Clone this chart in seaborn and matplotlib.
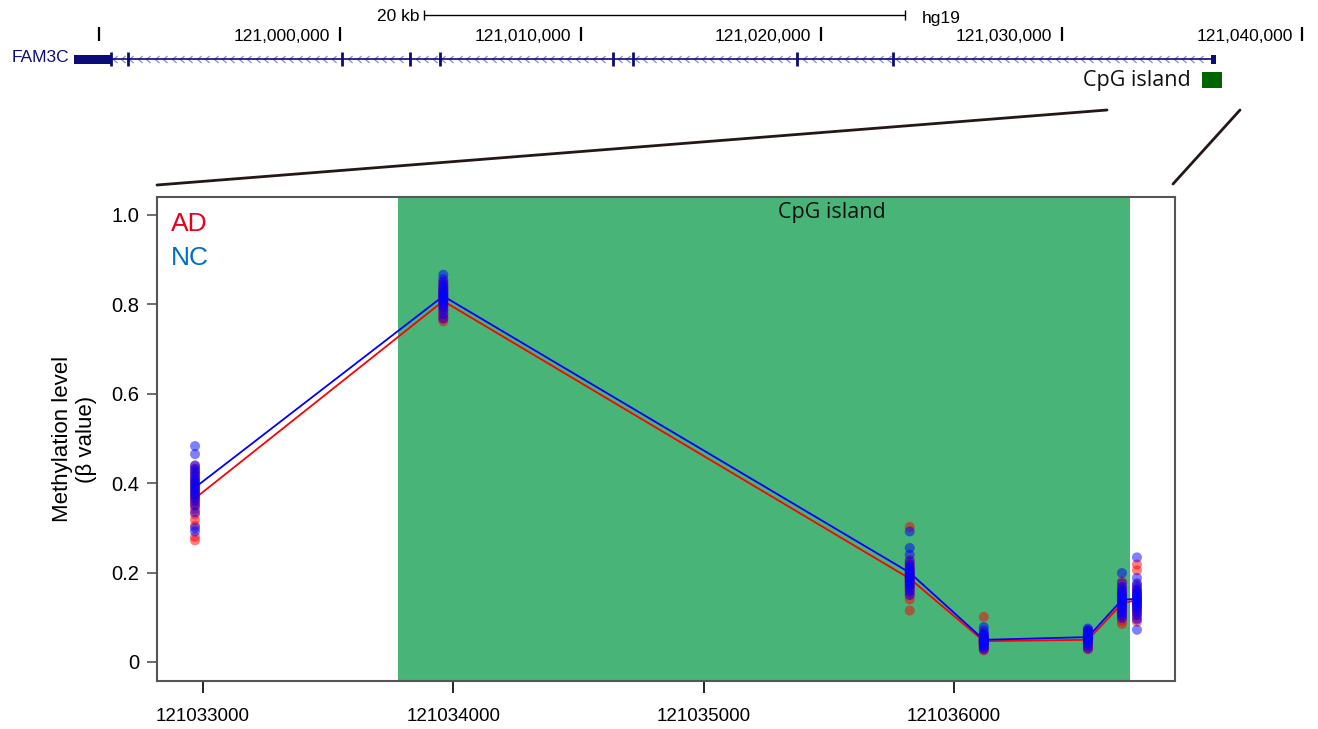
import numpy as np
import pandas as pd
import matplotlib
matplotlib.use("Agg")
import matplotlib.pyplot as plt
import seaborn as sns
from matplotlib.patches import Rectangle
from matplotlib.lines import Line2D
from matplotlib.path import Path

# ---------------- data ----------------
sites = [121032968, 121033960, 121035824, 121036120, 121036536, 121036672, 121036732]

ad_values = [
    [0.272, 0.280, 0.305, 0.318, 0.330, 0.342, 0.350, 0.356, 0.362, 0.368, 0.372, 0.378, 0.385, 0.392, 0.400, 0.408, 0.415, 0.422, 0.430, 0.438],
    [0.762, 0.768, 0.772, 0.778, 0.784, 0.790, 0.795, 0.800, 0.804, 0.808, 0.811, 0.814, 0.818, 0.822, 0.826, 0.830, 0.834, 0.838, 0.843, 0.850],
    [0.115, 0.140, 0.150, 0.158, 0.163, 0.168, 0.172, 0.176, 0.180, 0.183, 0.186, 0.189, 0.192, 0.196, 0.200, 0.205, 0.210, 0.218, 0.228, 0.302],
    [0.026, 0.030, 0.033, 0.035, 0.037, 0.039, 0.040, 0.042, 0.043, 0.044, 0.045, 0.046, 0.047, 0.048, 0.050, 0.052, 0.054, 0.057, 0.062, 0.101],
    [0.028, 0.032, 0.036, 0.039, 0.041, 0.043, 0.045, 0.047, 0.048, 0.049, 0.050, 0.051, 0.053, 0.055, 0.057, 0.059, 0.061, 0.063, 0.066, 0.070],
    [0.085, 0.092, 0.100, 0.106, 0.111, 0.115, 0.119, 0.123, 0.126, 0.129, 0.132, 0.135, 0.138, 0.141, 0.145, 0.149, 0.154, 0.160, 0.168, 0.180],
    [0.090, 0.098, 0.105, 0.111, 0.116, 0.120, 0.124, 0.128, 0.131, 0.134, 0.137, 0.140, 0.143, 0.147, 0.151, 0.156, 0.162, 0.172, 0.205, 0.218],
]
nc_values = [
    [0.292, 0.300, 0.335, 0.350, 0.360, 0.368, 0.374, 0.380, 0.385, 0.390, 0.395, 0.400, 0.405, 0.410, 0.418, 0.425, 0.432, 0.440, 0.465, 0.483],
    [0.768, 0.778, 0.788, 0.795, 0.800, 0.804, 0.808, 0.811, 0.814, 0.817, 0.820, 0.823, 0.826, 0.830, 0.834, 0.838, 0.843, 0.849, 0.856, 0.866],
    [0.150, 0.158, 0.165, 0.170, 0.175, 0.179, 0.183, 0.187, 0.190, 0.193, 0.196, 0.199, 0.203, 0.207, 0.212, 0.218, 0.225, 0.240, 0.255, 0.292],
    [0.028, 0.033, 0.036, 0.039, 0.041, 0.043, 0.045, 0.046, 0.047, 0.048, 0.049, 0.050, 0.051, 0.053, 0.055, 0.057, 0.060, 0.064, 0.070, 0.078],
    [0.030, 0.036, 0.041, 0.045, 0.048, 0.050, 0.052, 0.054, 0.055, 0.056, 0.057, 0.058, 0.060, 0.061, 0.063, 0.065, 0.067, 0.069, 0.072, 0.075],
    [0.098, 0.104, 0.110, 0.115, 0.119, 0.123, 0.127, 0.130, 0.133, 0.136, 0.139, 0.142, 0.145, 0.148, 0.152, 0.156, 0.161, 0.167, 0.176, 0.199],
    [0.072, 0.095, 0.105, 0.112, 0.118, 0.123, 0.127, 0.131, 0.135, 0.139, 0.142, 0.145, 0.149, 0.153, 0.157, 0.162, 0.168, 0.176, 0.188, 0.234],
]
groups = ["AD", "NC"]
cpg_island = (121033780, 121036704)
x_ticks = [121033000, 121034000, 121035000, 121036000]
y_ticks = [0, 0.2, 0.4, 0.6, 0.8, 1.0]
y_tick_labels = ["0", "0.2", "0.4", "0.6", "0.8", "1.0"]

# genome browser track (hg19)
gene_name = "FAM3C"
gene_start, gene_end = 120988932, 121036418
utr_end = 120990482
first_exon_start = 121036201
exons = [120990482, 120991189, 121000083, 121002909, 121004156, 121011347, 121012178, 121018994, 121022984]
ruler_ticks = [120990000, 121000000, 121010000, 121020000, 121030000, 121040000]
ruler_labels = ["", "121,000,000", "121,010,000", "121,020,000", "121,030,000", "121,040,000"]
scalebar = (121003491, 121023491)
cpg_track = (121035827, 121036658)

# ---------------- build long table ----------------
rows = []
for g, vals in zip(groups, [ad_values, nc_values]):
    for pos, vlist in zip(sites, vals):
        for v in vlist:
            rows.append({"group": g, "pos": pos, "beta": v})
df = pd.DataFrame(rows)

sns.set_theme(style="white")
plt.rcParams["font.family"] = ["Liberation Sans", "DejaVu Sans"]
plt.rcParams["text.color"] = "black"
plt.rcParams["axes.labelcolor"] = "black"
plt.rcParams["xtick.labelcolor"] = "black"
plt.rcParams["ytick.labelcolor"] = "black"

W, H = 1318, 729
fig = plt.figure(figsize=(W / 100, H / 100), dpi=100)

# ---------------- main methylation panel ----------------
ax = fig.add_axes([157 / W, 1 - 681 / H, 1018 / W, 484 / H])
ax.axvspan(*cpg_island, color="#48B478", lw=0, zorder=0)
pal = {"AD": "#FF0000", "NC": "#0000FF"}
sns.lineplot(data=df, x="pos", y="beta", hue="group", hue_order=groups, palette=pal,
             estimator="mean", errorbar=None, lw=1.3, legend=False, ax=ax, zorder=2)
sns.scatterplot(data=df, x="pos", y="beta", hue="group", hue_order=groups, palette=pal,
                alpha=0.5, s=52, edgecolor="none", linewidth=0, legend=False, ax=ax, zorder=3)

ax.set_xlim(121032816, 121036884)
ax.set_ylim(-0.0425, 1.040)
ax.set_xticks(x_ticks)
ax.set_xticklabels([str(t) for t in x_ticks], fontsize=13.5, color="black")
ax.set_yticks(y_ticks)
ax.set_yticklabels(y_tick_labels, fontsize=14.5, color="black")
ax.tick_params(axis="x", direction="out", length=8.5, width=1.2, color="black", pad=11, bottom=True)
ax.tick_params(axis="y", direction="out", length=7, width=1.2, color="#555555", pad=6, left=True)
ax.set_xlabel("")
ax.set_ylabel("Methylation level\n(β value)", fontsize=16, labelpad=10, color="black")
for s in ax.spines.values():
    s.set_color("#555555")
    s.set_linewidth(1.5)
ax.set_facecolor("white")

ax.text(0.0138, 0.944, "AD", color="#E8001C", fontsize=19, transform=ax.transAxes, va="center", ha="left")
ax.text(0.0138, 0.874, "NC", color="#0070C0", fontsize=19, transform=ax.transAxes, va="center", ha="left")
ax.text(0.663, 0.969, "CpG island", fontsize=15.5, family=["Open Sans", "DejaVu Sans"],
        transform=ax.transAxes, va="center", ha="center", color="#111111")

# ---------------- genome browser overlay ----------------
bp_per_px = 10000 / 240.6
top = fig.add_axes([0, 0, 1, 1])
top.set_xlim(121000000 - 340 * bp_per_px, 121000000 + (W - 340) * bp_per_px)
top.set_ylim(H, 0)
top.axis("off")
top.patch.set_alpha(0)

navy = "#0C0C78"
# scale bar
top.hlines(15, *scalebar, color="black", lw=1)
top.vlines(scalebar, 10, 20, color="black", lw=1)
top.annotate("20 kb", xy=(scalebar[0], 16), xytext=(-3, 0), textcoords="offset points",
             ha="right", va="center", fontsize=12.5)
top.annotate("hg19", xy=(scalebar[1], 18), xytext=(12, 0), textcoords="offset points",
             ha="left", va="center", fontsize=12.5)
# ruler
top.vlines(ruler_ticks, 27, 41, color="black", lw=1.6)
for t, lab in zip(ruler_ticks, ruler_labels):
    if lab:
        top.annotate(lab, xy=(t, 36), xytext=(-7, 0), textcoords="offset points",
                     ha="right", va="center", fontsize=12.5)
# gene model
gy = 59
top.hlines(gy, gene_start, gene_end, color=navy, lw=1.2, zorder=2)
chev = Path([(0.6, 1), (-0.6, 0), (0.6, -1)], [Path.MOVETO, Path.LINETO, Path.LINETO])
cpos = np.arange(gene_start + 1000, gene_end - 300, 350)
keep = [c for c in cpos if min(abs(c - e) for e in exons + [first_exon_start]) > 120]
top.plot(keep, [gy] * len(keep), ls="none", marker=chev, markersize=5, mfc="none",
         mec="#8A8AD0", mew=0.9, zorder=1)
top.add_patch(Rectangle((gene_start, gy - 4.5), utr_end - gene_start, 9, color=navy, lw=0, zorder=3))
top.add_patch(Rectangle((first_exon_start, gy - 4.5), gene_end - first_exon_start, 9, color=navy, lw=0, zorder=3))
top.vlines(exons, gy - 7, gy + 7, color=navy, lw=2, zorder=3)
top.annotate(gene_name, xy=(gene_start, gy - 2), xytext=(-3, 0), textcoords="offset points",
             ha="right", va="center", fontsize=12.5, color=navy)
# CpG island track
top.add_patch(Rectangle((cpg_track[0], 72), cpg_track[1] - cpg_track[0], 16, color="#006400", lw=0))
top.annotate("CpG island", xy=(cpg_track[0], 80), xytext=(-8, 0), textcoords="offset points",
             ha="right", va="center", fontsize=15.5, family=["Open Sans", "DejaVu Sans"], color="#111111")

# zoom connector lines (pixel coordinates of the layout)
for (x0, y0), (x1, y1) in [((157, 185), (1107, 110)), ((1173, 184), (1240, 110))]:
    fig.add_artist(Line2D([x0 / W, x1 / W], [1 - y0 / H, 1 - y1 / H], transform=fig.transFigure,
                          color="#231815", lw=2))

fig.savefig("out.png", dpi=100)
